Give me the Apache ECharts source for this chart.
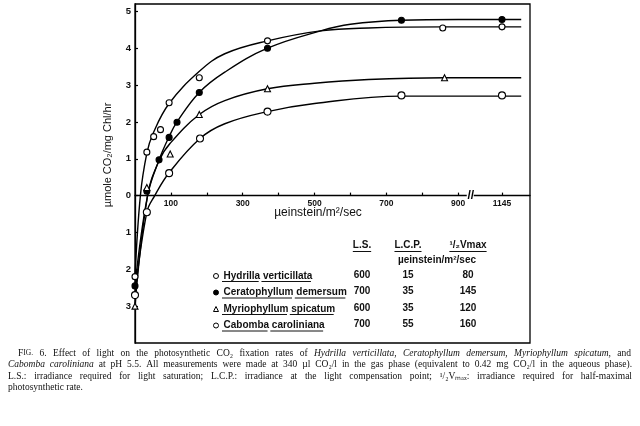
<!DOCTYPE html>
<html><head><meta charset="utf-8">
<script src="https://cdn.jsdelivr.net/npm/echarts@6/dist/echarts.min.js"></script>
<style>html,body{margin:0;padding:0;background:#fff}#c{width:640px;height:426px}</style>
</head><body><div id="c"></div>
<script>
// ---------- data ----------
const species = ['Hydrilla verticillata', 'Ceratophyllum demersum', 'Myriophyllum spicatum', 'Cabomba caroliniana'];
// observed points [µeinstein/m2/sec, µmole CO2/mg Chl/hr]
const hydrillaObs = [[0,-2.2],[33,1.18],[52,1.6],[71,1.79],[95,2.52],[179,3.2],[369,4.2],[857,4.55],[1145,4.58]];
const ceratoObs   = [[0,-2.45],[33,0.12],[67,0.97],[95,1.58],[117,1.99],[179,2.8],[369,4.0],[742,4.76],[1145,4.78]];
const myrioObs    = [[0,-3.0],[33,0.22],[98,1.13],[179,2.2],[369,2.9],[862,3.2]];
const cabombaObs  = [[0,-2.7],[33,-0.45],[95,0.61],[181,1.55],[369,2.28],[742,2.72],[1145,2.72]];
// fitted curves as drawn in the figure
const hydrillaCurve = [[0,-2.2],[15,0],[33,1.15],[50,1.68],[95,2.5],[180,3.38],[250,3.85],[369,4.2],[517,4.47],[650,4.55],[860,4.58],[1145,4.58],[1270,4.58]];
const ceratoCurve   = [[0,-2.45],[35,0],[67,0.97],[95,1.6],[117,2.0],[179,2.8],[250,3.35],[369,4.0],[517,4.47],[600,4.65],[742,4.76],[900,4.78],[1145,4.78],[1270,4.78]];
const myrioCurve    = [[0,-3.0],[35,0],[67,0.95],[98,1.42],[179,2.2],[250,2.58],[369,2.9],[500,3.05],[650,3.15],[862,3.2],[1145,3.2],[1270,3.2]];
const cabombaCurve  = [[0,-2.7],[33,-0.45],[55,0],[95,0.62],[181,1.55],[250,1.95],[369,2.28],[500,2.5],[742,2.7],[1145,2.7],[1270,2.7]];
// table
const lsValues   = [600, 700, 600, 700];
const lcpValues  = [15, 35, 35, 55];
const halfVmax   = [80, 145, 120, 160];
// axis ticks
const xLabelValues = [100, 300, 500, 700, 900, 1145];
const xTickValues  = [100, 200, 300, 400, 500, 600, 700, 800, 900, 1145];
const yTickValues  = [-3, -2, -1, 0, 1, 2, 3, 4, 5];
// broken x axis: beyond the break the scale is compressed
const BREAK_AT = 930, BREAK_SCALE = 0.428;
function pos(v) { return v <= BREAK_AT ? v : BREAK_AT + (v - BREAK_AT) * BREAK_SCALE; }
function mapData(arr) { return arr.map(p => [pos(p[0]), p[1]]); }

const captionLines = [
  {x: 18, w: 613, words: '{FIG} 6. Effect of light on the photosynthetic CO₂ fixation rates of *Hydrilla* *verticillata,* *Ceratophyllum* *demersum,* *Myriophyllum* *spicatum,* and'},
  {x: 8, w: 624, words: '*Cabomba* *caroliniana* at pH 5.5. All measurements were made at 340 µl CO₂/l in the gas phase (equivalent to 0.42 mg CO₂/l in the aqueous phase).'},
  {x: 8, w: 624, words: 'L.S.: irradiance required for light saturation; L.C.P.: irradiance at the light compensation point; ¹/₂Vₘₐₓ: irradiance required for half-maximal'},
  {x: 8, w: 0, words: 'photosynthetic rate.'}
];

// ---------- chart ----------
const chart = echarts.init(document.getElementById('c'), null, {renderer: 'canvas'});
const SANS = '"Liberation Sans", Arial, sans-serif';
const SERIF = '"Liberation Serif", "Times New Roman", serif';
const mctx = document.createElement('canvas').getContext('2d');
function measure(t, font) { mctx.font = font; return mctx.measureText(t).width; }

const GRID = {left: 135, right: 110, top: 4, bottom: 83};
const Y_MIN = -4, Y_MAX = 5.2;
const gridH = 426 - GRID.top - GRID.bottom;
const zeroOffset = gridH * (0 - Y_MIN) / (Y_MAX - Y_MIN);

const symbolDefs = [
  {symbol: 'circle', size: 6, color: '#fff'},
  {symbol: 'circle', size: 6, color: '#000'},
  {symbol: 'triangle', size: 6, color: '#fff'},
  {symbol: 'circle', size: 7, color: '#fff'}
];
const obs = [hydrillaObs, ceratoObs, myrioObs, cabombaObs];
const curves = [hydrillaCurve, ceratoCurve, myrioCurve, cabombaCurve];

const series = [];
curves.forEach((c, i) => series.push({
  name: species[i] + ' (fit)', type: 'line', data: mapData(c), smooth: 0.4,
  showSymbol: false, silent: true, z: 2,
  lineStyle: {color: '#000', width: 1.4}
}));
obs.forEach((o, i) => series.push({
  name: species[i], type: 'scatter', data: mapData(o), symbol: symbolDefs[i].symbol, symbolSize: symbolDefs[i].size,
  z: 5, itemStyle: {color: symbolDefs[i].color, borderColor: '#000', borderWidth: 1.1, opacity: 1}
}));

// graphic elements
const graphics = [];
const rowY = [275, 291.5, 308, 324.5];
const colX = [362, 408, 468];
const tblFont = 'bold 10px ' + SANS;
const headers = [{t: 'L.S.', x: colX[0]}, {t: 'L.C.P.', x: colX[1]}, {t: '¹/₂Vmax', x: colX[2]}];
headers.forEach(h => {
  graphics.push({type: 'text', x: h.x, y: 245, style: {text: h.t, font: tblFont, fill: '#111', align: 'center', verticalAlign: 'middle'}});
  const w = measure(h.t, tblFont);
  graphics.push({type: 'line', shape: {x1: h.x - w/2, y1: 251.5, x2: h.x + w/2, y2: 251.5}, style: {stroke: '#111', lineWidth: 1}});
});
graphics.push({type: 'text', x: 437, y: 260, style: {text: 'µeinstein/m²/sec', font: tblFont, fill: '#111', align: 'center', verticalAlign: 'middle'}});
rowY.forEach((y, i) => {
  [lsValues[i], lcpValues[i], halfVmax[i]].forEach((v, j) => {
    graphics.push({type: 'text', x: colX[j], y: y, style: {text: String(v), font: tblFont, fill: '#111', align: 'center', verticalAlign: 'middle'}});
  });
  let x = 222;
  const words = species[i].split(' ');
  const sp = measure(' ', tblFont);
  words.forEach(wd => {
    const w = measure(wd, tblFont);
    graphics.push({type: 'line', shape: {x1: x, y1: y + 6.5, x2: x + w, y2: y + 6.5}, style: {stroke: '#111', lineWidth: 1}});
    x += w + sp;
  });
});
// axis titles
graphics.push({type: 'text', x: 318, y: 213, style: {text: 'µeinstein/m²/sec', font: '12px ' + SANS, fill: '#111', align: 'center', verticalAlign: 'middle'}});
graphics.push({type: 'text', x: 108, y: 155, rotation: Math.PI / 2, style: {text: 'µmole CO₂/mg Chl/hr', font: '11px ' + SANS, fill: '#111', align: 'center', verticalAlign: 'middle'}});

// caption (justified)
const capSize = 9.5;
const capY = [353, 364.5, 376, 387.5];
captionLines.forEach((ln, li) => {
  const toks = ln.words.split(' ').map(t => {
    if (t === '{FIG}') return {rich: true, t: 'FIG.', w: measure('F', capSize + 'px ' + SERIF) + measure('IG.', '7.5px ' + SERIF)};
    const it = t.startsWith('*');
    const txt = t.replace(/\*/g, '');
    const font = (it ? 'italic ' : '') + capSize + 'px ' + SERIF;
    return {t: txt, font: font, w: measure(txt, font)};
  });
  const total = toks.reduce((s, k) => s + k.w, 0);
  const gap = ln.w ? (ln.w - total) / (toks.length - 1) : measure(' ', capSize + 'px ' + SERIF);
  let x = ln.x;
  toks.forEach(k => {
    if (k.rich) {
      graphics.push({type: 'text', x: x, y: capY[li], style: {text: '{a|F}{b|IG.}', rich: {a: {font: capSize + 'px ' + SERIF, fill: '#111'}, b: {font: '7.5px ' + SERIF, fill: '#111'}}, verticalAlign: 'middle', align: 'left'}});
    } else {
      graphics.push({type: 'text', x: x, y: capY[li], style: {text: k.t, font: k.font, fill: '#111', align: 'left', verticalAlign: 'middle'}});
    }
    x += k.w + gap;
  });
});

const option = {
  animation: false,
  backgroundColor: '#fff',
  grid: Object.assign({show: true, borderColor: '#000', borderWidth: 1.3, backgroundColor: 'transparent'}, GRID),
  xAxis: {
    type: 'value', min: 0, max: 1100, position: 'bottom', offset: -zeroOffset,
    axisLine: {onZero: false, lineStyle: {color: '#000', width: 1.3}},
    splitLine: {show: false},
    axisTick: {inside: true, length: 3, customValues: xTickValues.map(pos), lineStyle: {color: '#000', width: 1.2}},
    axisLabel: {customValues: xLabelValues.map(pos), margin: 4, color: '#111', fontFamily: SANS, fontSize: 8.5, fontWeight: 'bold',
      formatter: v => { const k = xLabelValues.find(l => Math.abs(pos(l) - v) < 0.5); return k === undefined ? '' : String(k); }}
  },
  yAxis: {
    type: 'value', min: Y_MIN, max: Y_MAX,
    axisLine: {show: true, onZero: false, lineStyle: {color: '#000', width: 1.3}},
    splitLine: {show: false},
    axisTick: {inside: true, length: 3, customValues: yTickValues, lineStyle: {color: '#000', width: 1.2}},
    axisLabel: {customValues: yTickValues, margin: 4, color: '#111', fontFamily: SANS, fontSize: 9.5, fontWeight: 'bold', formatter: v => String(Math.abs(v))}
  },
  legend: {
    data: species, orient: 'vertical', left: 208, top: 265, itemWidth: 5, itemHeight: 5, itemGap: 4.5,
    itemStyle: {borderWidth: 1},
    textStyle: {fontFamily: SANS, fontSize: 10, fontWeight: 'bold', color: '#111', lineHeight: 12},
    selectedMode: false
  },
  series: series,
  graphic: graphics
};
chart.setOption(option);
// break mark on the x axis
const bp = chart.convertToPixel({gridIndex: 0}, [pos(BREAK_AT) + 5, 0]);
chart.setOption({graphic: graphics.concat([
  {type: 'rect', shape: {x: bp[0] - 4, y: bp[1] - 1.5, width: 7, height: 3}, style: {fill: '#fff'}, z: 100},
  {type: 'text', x: bp[0], y: bp[1], z: 101, style: {text: '//', font: 'bold 12px ' + SANS, fill: '#000', align: 'center', verticalAlign: 'middle'}}
])});
</script>
</body></html>
